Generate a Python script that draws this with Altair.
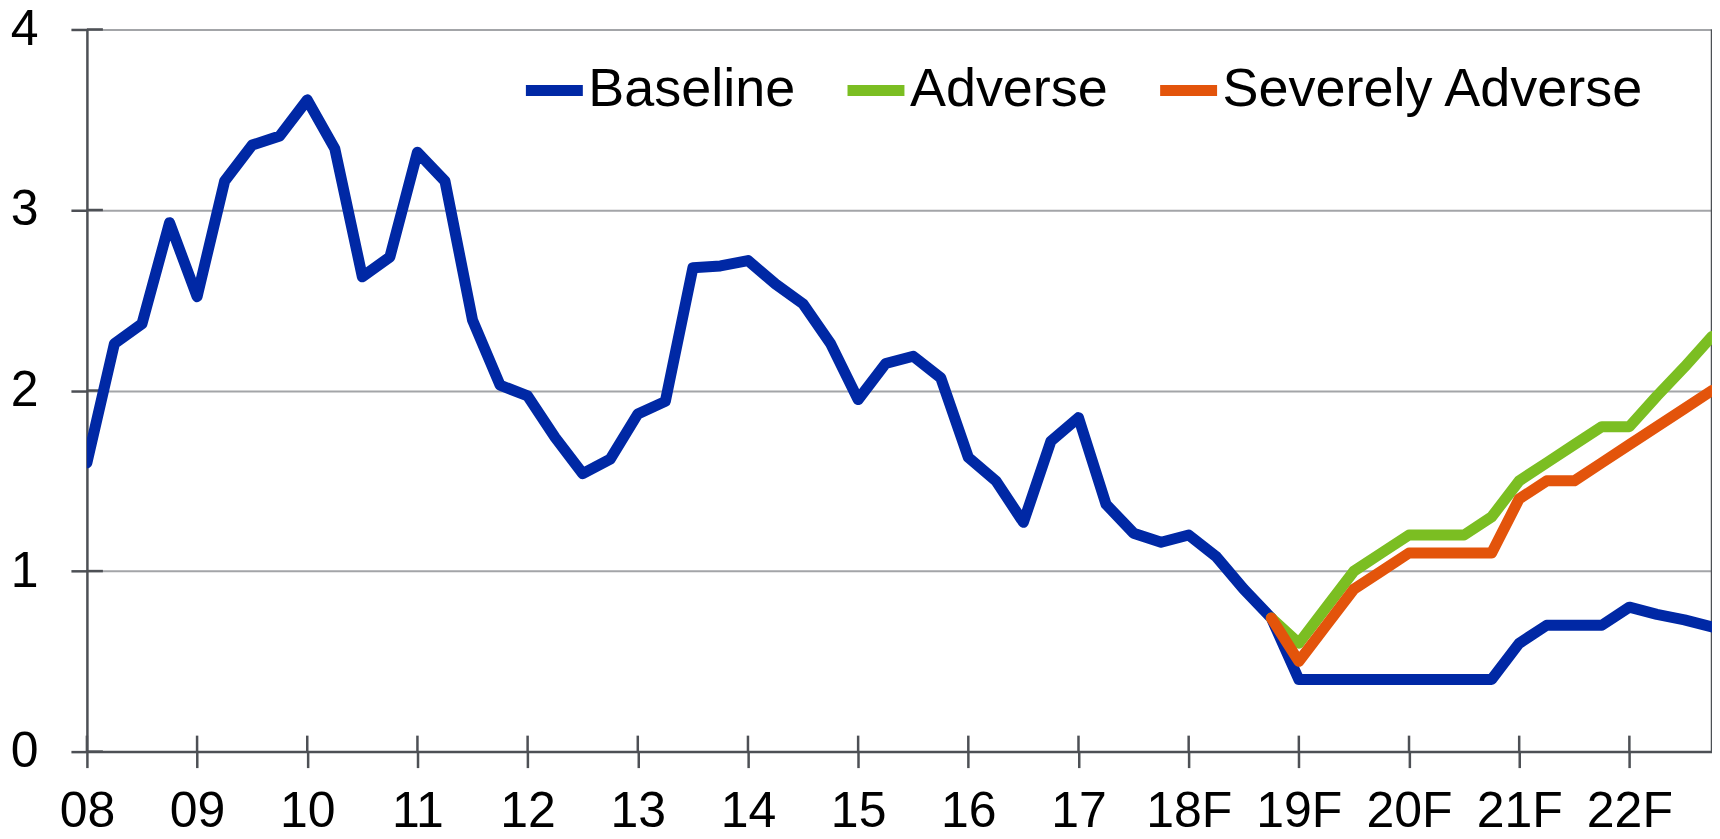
import altair as alt
import pandas as pd

# ---- data ----
baseline_q = list(range(0, 60))
baseline = [1.60, 2.26, 2.37, 2.93, 2.52, 3.16, 3.36, 3.41, 3.61, 3.34,
            2.63, 2.74, 3.32, 3.16, 2.39, 2.03, 1.97, 1.74, 1.54, 1.62,
            1.87, 1.94, 2.68, 2.69, 2.72, 2.59, 2.48, 2.26, 1.95, 2.15,
            2.19, 2.07, 1.63, 1.50, 1.27, 1.72, 1.85, 1.37, 1.21, 1.16,
            1.20, 1.08, 0.90, 0.74, 0.40, 0.40, 0.40, 0.40, 0.40, 0.40,
            0.40, 0.40, 0.60, 0.70, 0.70, 0.70, 0.80, 0.76, 0.73, 0.69]
scenario_q = list(range(43, 60))
adverse = [0.74, 0.60, 0.80, 1.00, 1.10, 1.20, 1.20, 1.20, 1.30, 1.50,
           1.60, 1.70, 1.80, 1.80, 1.97, 2.13, 2.30]
severe = [0.74, 0.50, 0.70, 0.90, 1.00, 1.10, 1.10, 1.10, 1.10, 1.40,
          1.50, 1.50, 1.60, 1.70, 1.80, 1.90, 2.00]

series_names = ["Baseline", "Adverse", "Severely Adverse"]
series_colors = ["#0028A5", "#7BBE22", "#E3540B"]

tick_pos = list(range(0, 60, 4))
tick_labels = ["08", "09", "10", "11", "12", "13", "14", "15", "16", "17",
               "18F", "19F", "20F", "21F", "22F"]
y_ticks = [0, 1, 2, 3, 4]

rows = []
for q, v in zip(baseline_q, baseline):
    rows.append({"q": q, "v": v, "s": "Baseline"})
for q, v in zip(scenario_q, adverse):
    rows.append({"q": q, "v": v, "s": "Adverse"})
for q, v in zip(scenario_q, severe):
    rows.append({"q": q, "v": v, "s": "Severely Adverse"})
df = pd.DataFrame(rows)

W, H = 1627, 723
DARK = "#4D5055"
GRID = "#A3A5A8"
FONT = "Liberation Sans"

label_expr = "[" + ",".join("'%s'" % l for l in tick_labels) + "][round(datum.value/4)]"

x = alt.X("q:Q",
          scale=alt.Scale(domain=[0, 59], nice=False, zero=False),
          axis=alt.Axis(values=tick_pos, labelExpr=label_expr, grid=False,
                        tickSize=16, tickWidth=2.5, tickColor=DARK,
                        domainColor=DARK, domainWidth=2.5,
                        labelFont=FONT, labelFontSize=50, labelColor="black",
                        labelBaseline="alphabetic", labelPadding=59,
                        labelFlush=False, labelOverlap=False,
                        title=None))
y = alt.Y("v:Q",
          scale=alt.Scale(domain=[0, 4], nice=False, zero=True),
          axis=alt.Axis(values=y_ticks, format="d", grid=True,
                        gridColor=GRID, gridWidth=2,
                        tickSize=16, tickWidth=2.5, tickColor=DARK,
                        domainColor=DARK, domainWidth=2.5,
                        labelFont=FONT, labelFontSize=50, labelColor="black",
                        labelPadding=33, labelFlush=False, labelOverlap=False,
                        title=None))

lines = alt.Chart(df).mark_line(strokeWidth=11, strokeCap="round", strokeJoin="round",
                                clip=True).encode(
    x=x, y=y,
    color=alt.Color("s:N",
                    scale=alt.Scale(domain=series_names, range=series_colors),
                    sort=series_names,
                    legend=alt.Legend(title=None, orient="none", legendX=434, legendY=27,
                                      direction="horizontal", symbolType="stroke",
                                      symbolSize=3249, symbolStrokeWidth=11,
                                      labelFont=FONT, labelFontSize=54, labelColor="black",
                                      labelLimit=2000, labelOffset=0, columnPadding=29,
                                      padding=0, symbolOffset=0)),
)

xt_df = pd.DataFrame({"q": tick_pos})
xticks = alt.Chart(xt_df).mark_rule(color=DARK, strokeWidth=2.5).encode(
    x=x, y=alt.value(H - 16), y2=alt.value(H))

yt_df = pd.DataFrame({"v": y_ticks})
yticks = alt.Chart(yt_df).mark_rule(color=DARK, strokeWidth=2.5).encode(
    y=y, x=alt.value(0), x2=alt.value(16))

border = alt.Chart(pd.DataFrame({"q": [59]})).mark_rule(color=DARK, strokeWidth=2.5).encode(
    x=alt.value(W), y=alt.value(0), y2=alt.value(H))

chart = alt.layer(xticks, yticks, border, lines).properties(
    width=W, height=H,
    padding={"left": 79, "top": 21, "right": 0, "bottom": 88},
    autosize=alt.AutoSizeParams(type="none"),
).configure_view(stroke=None).configure(background="white")

chart.save("out.html", embed_options={"renderer": "svg", "actions": False})
